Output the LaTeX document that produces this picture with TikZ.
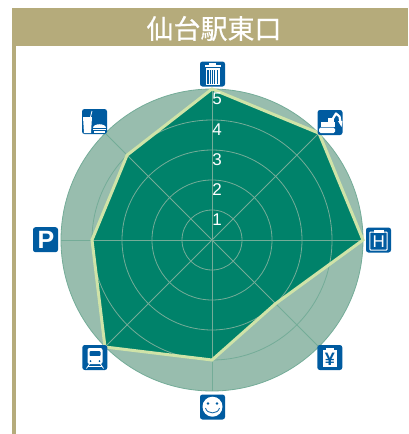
\documentclass[tikz,border=0pt]{standalone}
\usepackage{fontspec}
\setmainfont{Liberation Sans}
\newfontfamily\cjk[FakeBold=0.4]{Noto Sans CJK JP}
\definecolor{gold}{HTML}{B5AB7B}
\definecolor{ringbg}{HTML}{98BDAE}
\definecolor{ringline}{HTML}{74AC98}
\definecolor{deep}{HTML}{00826A}
\definecolor{edge}{HTML}{CFE3A8}
\definecolor{iconblue}{HTML}{005BA0}
\tikzset{
  grid/.style={draw=ringline,line width=.8pt},
  scaletext/.style={text=white,font=\fontsize{17}{17}\selectfont,inner sep=0pt},
  iconbox/.style={fill=iconblue,rounded corners=2.5pt}
}
\newcommand{\iconbg}[2]{\fill[iconbox] (#1-12.5,#2-12.5) rectangle (#1+12.5,#2+12.5);}
\begin{document}
\begin{tikzpicture}[x=1pt,y=-1pt]
\useasboundingbox (0,0) rectangle (408,434);
\fill[white] (0,0) rectangle (408,434);
% frame
\fill[gold] (12,8) rectangle (408,46);
\fill[gold] (12,46) rectangle (15.5,434);
\node[text=white,inner sep=0pt,font=\cjk\fontsize{27}{27}\selectfont] (title) at (214,28.5) {仙台駅東口};
% radar background
\coordinate (c) at (212,240);
\fill[ringbg] (c) circle (151);
\draw[grid] (c) circle (151);
% polygon
\fill[deep] (212,89) -- (319,133.2) -- (363,240) -- (275.6,303.6) -- (212,360) -- (105,347) -- (92,240) -- (127.1,155.1) -- cycle;
% grid
\foreach \r in {30,60,90,120} \draw[grid] (c) circle (\r);
\foreach \a in {0,45,...,315} \draw[grid] (c) -- ++(\a:151);
\draw[edge,line width=3pt,line join=miter] (212,89) -- (319,133.2) -- (363,240) -- (275.6,303.6) -- (212,360) -- (105,347) -- (92,240) -- (127.1,155.1) -- cycle;
% scale labels
\node[scaletext] (s1) at (217,220) {1};
\node[scaletext] (s2) at (217,190) {2};
\node[scaletext] (s3) at (217,160) {3};
\node[scaletext] (s4) at (217,130) {4};
\node[scaletext] (s5) at (217,99) {5};
% icon: trash (top)
\iconbg{212.5}{74}
\fill[white] (209,63.2) rectangle (216,65);
\fill[white] (204.5,65) rectangle (220.5,67.2);
\fill[white] (205.5,68) rectangle (219.5,84.5);
\foreach \x in {207,209.3,211.6,213.9,216.2} \fill[iconblue] (\x+.3,69.5) rectangle (\x+1.5,83.5);
% icon: excavator (NE)
\iconbg{330}{122.5}
\fill[white,rounded corners=1.5pt] (319,127.6) rectangle (335,133);
\fill[white] (321,121.5) rectangle (335,126.8);
\fill[white] (327.5,117.5) rectangle (333.5,122);
\draw[white,line width=2.2pt,line join=round] (332,120) -- (336,113.5) -- (339.5,116.5) -- (340.5,122);
\fill[white] (338,121) -- (342.5,121) -- (341.5,127) -- cycle;
% icon: H (E)
\iconbg{378.5}{240}
\draw[white,line width=1pt,rounded corners=.8pt] (369.8,232) rectangle (387.2,250);
\fill[white] (373.5,229.8) rectangle (383.5,233);
\node[text=white,inner sep=0pt,font=\fontsize{17}{17}\selectfont] (hmark) at (378.7,242) {H};
% icon: yen (SE)
\iconbg{329.8}{357.5}
\fill[white] (322.8,350) rectangle (336.8,366.5);
\fill[white] (326,348) rectangle (333.6,351);
\node[text=iconblue,inner sep=0pt,font=\bfseries\fontsize{18}{18}\selectfont] (yenmark) at (329.8,359) {¥};
% icon: smile (S)
\iconbg{212.5}{407}
\fill[white] (212.5,406.7) circle (10);
\fill[iconblue] (208,403.5) circle (1.3);
\fill[iconblue] (217,403.5) circle (1.3);
\draw[iconblue,line width=.8pt] (205.5,408) .. controls (207,414.5) and (218,414.5) .. (219.5,408);
% icon: train (SW)
\iconbg{94.8}{357.5}
\fill[white,rounded corners=2pt] (87.5,348) rectangle (102.5,364);
\fill[iconblue,rounded corners=.8pt] (89.5,351.2) rectangle (100.5,355.8);
\fill[iconblue] (90.5,361) circle (1);
\fill[iconblue] (99.5,361) circle (1);
\draw[white,line width=.8pt] (89.5,364) -- (86.5,368.5);
\draw[white,line width=.8pt] (100.5,364) -- (103.5,368.5);
\draw[white,line width=.8pt] (88,366.5) -- (102,366.5);
% icon: P (W)
\iconbg{45.5}{239.7}
\node[text=white,inner sep=0pt,font=\bfseries\fontsize{25}{25}\selectfont] (pmark) at (46,240) {P};
% icon: food (NW)
\iconbg{94.5}{121.5}
\fill[white] (83,117) -- (92,117) -- (91,133) -- (84,133) -- cycle;
\draw[white,line width=.8pt] (90.5,117) -- (92,111);
\fill[white] (93,127.6) .. controls (93,122.5) and (105.5,122.5) .. (105.5,127.6) -- cycle;
\fill[white] (93,128.6) rectangle (105.5,130);
\fill[white] (93.5,130.8) rectangle (105,133.2);
\end{tikzpicture}
\end{document}
